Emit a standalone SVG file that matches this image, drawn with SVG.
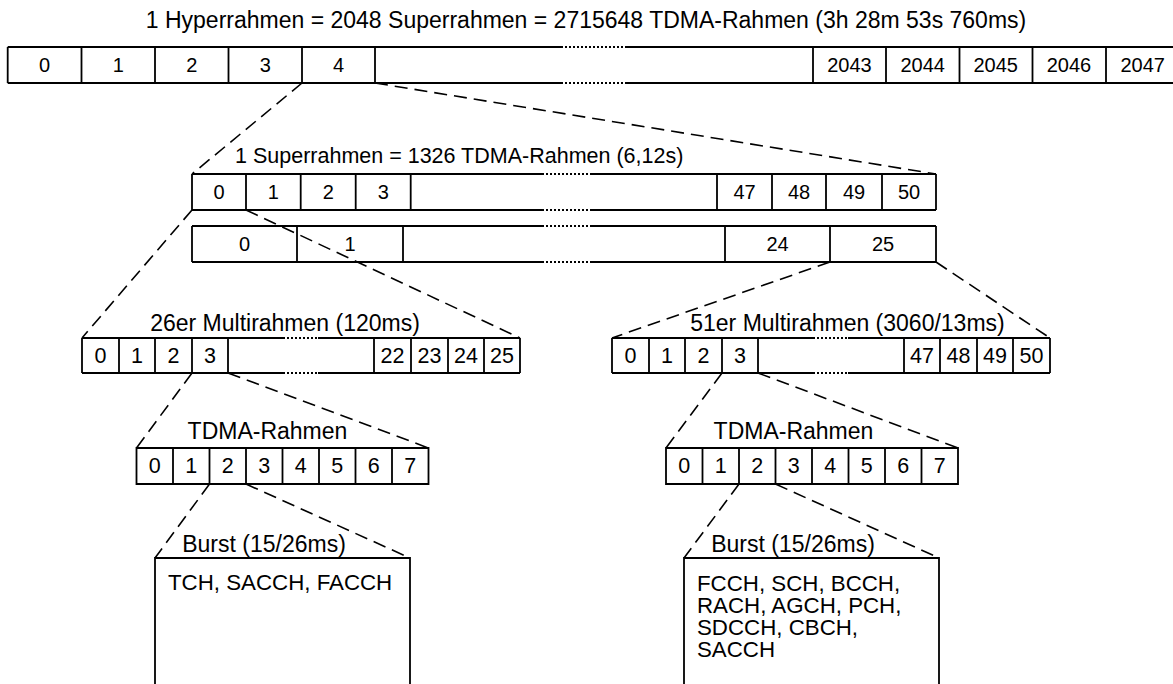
<svg xmlns="http://www.w3.org/2000/svg" width="1173" height="684" viewBox="0 0 1173 684">
<style>
.ln{stroke:#000;stroke-width:1.8;fill:none}
.dot{stroke:#000;stroke-width:1.8;stroke-dasharray:2 2;fill:none}
.dash{stroke:#000;stroke-width:1.6;stroke-dasharray:13 7;fill:none}
text{font-family:"Liberation Sans",Arial,sans-serif;fill:#000}
.num{font-size:20px;text-anchor:middle}
.mnum{font-size:21.5px;text-anchor:middle}
.lbl{font-size:23px;text-anchor:middle}
.body{font-size:22.3px}
</style>
<rect x="0" y="0" width="1173" height="684" fill="#fff"/>

<g id="connectors">
<path class="dash" d="M302 83 L192 174"/>
<path class="dash" d="M375 83 L936 174"/>
<path class="dash" d="M192 210 L82 338"/>
<path class="dash" d="M246 210 L520 338"/>
<path class="dash" d="M830 262 L612 338"/>
<path class="dash" d="M936 262 L1050 338"/>
<path class="dash" d="M192 373 L136.5 448"/>
<path class="dash" d="M228 373 L428.5 448"/>
<path class="dash" d="M722 373 L666 448"/>
<path class="dash" d="M758 373 L958 448"/>
<path class="dash" d="M209.5 484 L155 558"/>
<path class="dash" d="M246 484 L410 558"/>
<path class="dash" d="M739 484 L684 558"/>
<path class="dash" d="M775.5 484 L939 558"/>
</g>

<g id="title">
<text class="lbl" x="586" y="28">1 Hyperrahmen = 2048 Superrahmen = 2715648 TDMA-Rahmen (3h 28m 53s 760ms)</text>
</g>

<g id="hyperframe">
<path class="ln" d="M7.7 47 H561 M627 47 H1180 M7.7 83 H561 M627 83 H1180 M7.7 47 V83 M81.5 47 V83 M155 47 V83 M228.5 47 V83 M302 47 V83 M375 47 V83 M813 47 V83 M886 47 V83 M959.5 47 V83 M1032.5 47 V83 M1106 47 V83"/>
<path class="dot" d="M561 47 H627 M561 83 H627"/>
<text class="num" x="44.6" y="72">0</text>
<text class="num" x="118.2" y="72">1</text>
<text class="num" x="191.7" y="72">2</text>
<text class="num" x="265.2" y="72">3</text>
<text class="num" x="338.5" y="72">4</text>
<text class="num" x="849.5" y="72">2043</text>
<text class="num" x="922.7" y="72">2044</text>
<text class="num" x="995.7" y="72">2045</text>
<text class="num" x="1069" y="72">2046</text>
<text class="num" x="1142.7" y="72">2047</text>
</g>

<g id="superframe">
<text x="235" y="163" style="font-size:21.5px">1 Superrahmen = 1326 TDMA-Rahmen (6,12s)</text>
<path class="ln" d="M192 174 H542 M592 174 H936 M192 210 H542 M592 210 H936 M192 174 V210 M246 174 V210 M300.7 174 V210 M355.7 174 V210 M410.7 174 V210 M717 174 V210 M772 174 V210 M826 174 V210 M882 174 V210 M936 174 V210"/>
<path class="dot" d="M542 174 H592 M542 210 H592"/>
<text class="num" x="219" y="199">0</text>
<text class="num" x="273.3" y="199">1</text>
<text class="num" x="328.2" y="199">2</text>
<text class="num" x="383.2" y="199">3</text>
<text class="num" x="744.5" y="199">47</text>
<text class="num" x="799" y="199">48</text>
<text class="num" x="854" y="199">49</text>
<text class="num" x="909" y="199">50</text>
</g>

<g id="superframe-b">
<path class="ln" d="M192 226 H542 M592 226 H936 M192 262 H542 M592 262 H936 M192 226 V262 M297 226 V262 M403 226 V262 M725 226 V262 M830 226 V262 M936 226 V262"/>
<path class="dot" d="M542 226 H592 M542 262 H592"/>
<text class="num" x="244.5" y="251">0</text>
<text class="num" x="350" y="251">1</text>
<text class="num" x="777.5" y="251">24</text>
<text class="num" x="883" y="251">25</text>
</g>

<g id="multiframe26">
<text class="lbl" x="285" y="331">26er Multirahmen (120ms)</text>
<path class="ln" d="M82 338 H283 M318 338 H520 M82 373 H283 M318 373 H520 M82 338 V373 M119 338 V373 M155 338 V373 M192 338 V373 M228 338 V373 M374 338 V373 M411 338 V373 M448 338 V373 M484 338 V373 M520 338 V373"/>
<path class="dot" d="M283 338 H318 M283 373 H318"/>
<text class="mnum" x="100.5" y="363">0</text>
<text class="mnum" x="137" y="363">1</text>
<text class="mnum" x="173.5" y="363">2</text>
<text class="mnum" x="210" y="363">3</text>
<text class="mnum" x="392.5" y="363">22</text>
<text class="mnum" x="429.5" y="363">23</text>
<text class="mnum" x="466" y="363">24</text>
<text class="mnum" x="502" y="363">25</text>
</g>

<g id="multiframe51">
<text class="lbl" x="847.5" y="331">51er Multirahmen (3060/13ms)</text>
<path class="ln" d="M612 338 H813 M848 338 H1050 M612 373 H813 M848 373 H1050 M612 338 V373 M649 338 V373 M685 338 V373 M722 338 V373 M758 338 V373 M904 338 V373 M940 338 V373 M977 338 V373 M1013 338 V373 M1050 338 V373"/>
<path class="dot" d="M813 338 H848 M813 373 H848"/>
<text class="mnum" x="630.5" y="363">0</text>
<text class="mnum" x="667" y="363">1</text>
<text class="mnum" x="703.5" y="363">2</text>
<text class="mnum" x="740" y="363">3</text>
<text class="mnum" x="922" y="363">47</text>
<text class="mnum" x="958.5" y="363">48</text>
<text class="mnum" x="995" y="363">49</text>
<text class="mnum" x="1031.5" y="363">50</text>
</g>

<g id="tdma-left">
<text class="lbl" x="267.5" y="439">TDMA-Rahmen</text>
<path class="ln" d="M136.5 448 H428.5 V484 H136.5 Z M173 448 V484 M209.5 448 V484 M246 448 V484 M282.5 448 V484 M319 448 V484 M355.5 448 V484 M392 448 V484"/>
<text class="mnum" x="154.8" y="473">0</text>
<text class="mnum" x="191.3" y="473">1</text>
<text class="mnum" x="227.8" y="473">2</text>
<text class="mnum" x="264.3" y="473">3</text>
<text class="mnum" x="300.8" y="473">4</text>
<text class="mnum" x="337.3" y="473">5</text>
<text class="mnum" x="373.8" y="473">6</text>
<text class="mnum" x="410.3" y="473">7</text>
</g>

<g id="tdma-right">
<text class="lbl" x="793.5" y="439">TDMA-Rahmen</text>
<path class="ln" d="M666 448 H958 V484 H666 Z M702.5 448 V484 M739 448 V484 M775.5 448 V484 M812 448 V484 M848.5 448 V484 M885 448 V484 M921.5 448 V484"/>
<text class="mnum" x="684.3" y="473">0</text>
<text class="mnum" x="720.8" y="473">1</text>
<text class="mnum" x="757.3" y="473">2</text>
<text class="mnum" x="793.8" y="473">3</text>
<text class="mnum" x="830.3" y="473">4</text>
<text class="mnum" x="866.8" y="473">5</text>
<text class="mnum" x="903.3" y="473">6</text>
<text class="mnum" x="939.8" y="473">7</text>
</g>

<g id="burst-left">
<text class="lbl" x="264" y="552">Burst (15/26ms)</text>
<path class="ln" d="M155 700 V558 H410 V700"/>
<text class="body" x="168" y="590">TCH, SACCH, FACCH</text>
</g>

<g id="burst-right">
<text class="lbl" x="793" y="552">Burst (15/26ms)</text>
<path class="ln" d="M684 700 V558 H939 V700"/>
<text class="body" x="697" y="591">FCCH, SCH, BCCH,</text>
<text class="body" x="697" y="613">RACH, AGCH, PCH,</text>
<text class="body" x="697" y="635">SDCCH, CBCH,</text>
<text class="body" x="697" y="657">SACCH</text>
</g>
</svg>
